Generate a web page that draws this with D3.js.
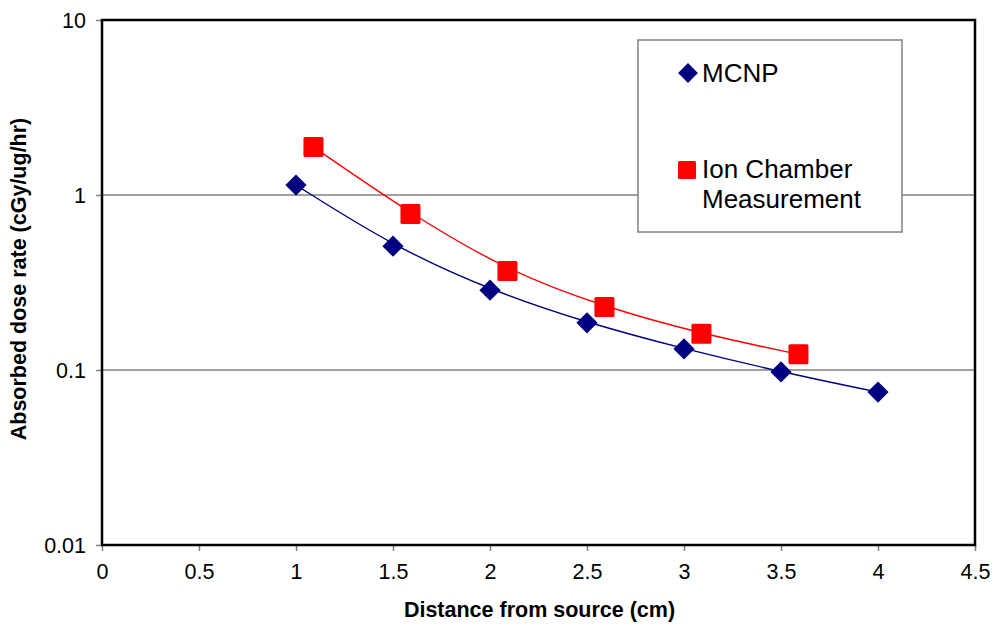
<!DOCTYPE html>
<html>
<head>
<meta charset="utf-8">
<script src="https://cdn.jsdelivr.net/npm/d3@7"></script>
<style>
  body { margin: 0; background: #fff; }
  svg { font-family: "Liberation Sans", Arial, sans-serif; }
</style>
</head>
<body>
<svg id="chart" width="997" height="627"></svg>
<script>
// data
const mcnpX = [1, 1.5, 2, 2.5, 3, 3.5, 4];
const mcnpY = [1.14, 0.51, 0.286, 0.186, 0.132, 0.0975, 0.0748];
const ionX = [1.09, 1.59, 2.09, 2.59, 3.09, 3.59];
const ionY = [1.88, 0.78, 0.368, 0.229, 0.161, 0.123];
const xTicks = [0, 0.5, 1, 1.5, 2, 2.5, 3, 3.5, 4, 4.5];
const yTicks = [0.01, 0.1, 1, 10];

const margin = {top: 20, right: 22, bottom: 82, left: 102};
const svg = d3.select("#chart");
const width = 997 - margin.left - margin.right;
const height = 627 - margin.top - margin.bottom;

const g = svg.append("g").attr("transform", `translate(${margin.left},${margin.top})`);

const x = d3.scaleLinear().domain([0, 4.5]).range([0, width]);
const y = d3.scaleLog().domain([0.01, 10]).range([height, 0]);

//gridlines at 0.1 and 1
g.selectAll(".grid")
  .data(yTicks.filter(d => d > 0.01 && d < 10))
  .enter().append("line")
    .attr("x1", 0).attr("x2", width)
    .attr("y1", d => y(d)).attr("y2", d => y(d))
    .attr("stroke", "#808080").attr("stroke-width", 1.5);

//axes
const xAxis = g.append("g")
  .attr("transform", `translate(0,${height})`)
  .call(d3.axisBottom(x).tickValues(xTicks).tickFormat(d3.format("")).tickSize(6).tickSizeOuter(0));
const yAxis = g.append("g")
  .call(d3.axisLeft(y).tickValues(yTicks).tickFormat(d => String(d)).tickSize(6).tickSizeOuter(0));

[xAxis, yAxis].forEach(a => {
  a.select(".domain").remove();
  a.selectAll(".tick line").attr("stroke", "#808080").attr("stroke-width", 1.5);
  a.selectAll(".tick text").attr("font-size", 21.5).attr("fill", "#000")
    .attr("font-family", "'Liberation Sans', Arial, sans-serif");
});
xAxis.selectAll(".tick text").attr("y", 8).attr("dy", "1.2em");
yAxis.selectAll(".tick text").attr("x", -16).attr("dy", "0.36em");

//frame
g.append("rect")
  .attr("width", width).attr("height", height)
  .attr("fill", "none").attr("stroke", "#000").attr("stroke-width", 2.5);

//curves
const line = d3.line()
  .x(d => x(d[0])).y(d => y(d[1]))
  .curve(d3.curveBasis);

const mcnp = mcnpX.map((v, i) => [v, mcnpY[i]]);
const ion = ionX.map((v, i) => [v, ionY[i]]);

g.append("path").datum(ion).attr("d", line)
  .attr("fill", "none").attr("stroke", "#ff0000").attr("stroke-width", 1.4);
g.append("path").datum(mcnp).attr("d", line)
  .attr("fill", "none").attr("stroke", "#000080").attr("stroke-width", 1.4);

g.selectAll(".mcnp")
  .data(mcnp)
  .enter().append("rect")
    .attr("x", -7.5).attr("y", -7.5).attr("width", 15).attr("height", 15)
    .attr("transform", d => `translate(${x(d[0])},${y(d[1])}) rotate(45)`)
    .attr("fill", "#000080");

g.selectAll(".ion")
  .data(ion)
  .enter().append("rect")
    .attr("x", d => x(d[0]) - 10).attr("y", d => y(d[1]) - 10)
    .attr("width", 20).attr("height", 20).attr("rx", 1.5)
    .attr("fill", "#ff0000");

//legend
const leg = svg.append("g");
leg.append("rect")
  .attr("x", 638).attr("y", 40).attr("width", 264).attr("height", 192)
  .attr("fill", "#fff").attr("stroke", "#808080").attr("stroke-width", 1.5);
leg.append("rect")
  .attr("x", -7).attr("y", -7).attr("width", 14).attr("height", 14)
  .attr("transform", "translate(688,73) rotate(45)")
  .attr("fill", "#000080");
leg.append("rect")
  .attr("x", 678).attr("y", 161).attr("width", 18).attr("height", 18).attr("rx", 1.5)
  .attr("fill", "#ff0000");
const legText = leg.append("g").attr("font-size", 26).attr("fill", "#000");
legText.append("text").attr("x", 702).attr("y", 82).text("MCNP");
legText.append("text").attr("x", 702).attr("y", 178).text("Ion Chamber");
legText.append("text").attr("x", 702).attr("y", 208).text("Measurement");

//axis titles
svg.append("text")
  .attr("x", margin.left + width / 2 + 1).attr("y", 617)
  .attr("text-anchor", "middle").attr("font-size", 21.5).attr("font-weight", "bold")
  .text("Distance from source (cm)");
svg.append("text")
  .attr("transform", `translate(26,279) rotate(-90)`)
  .attr("text-anchor", "middle").attr("font-size", 21.5).attr("font-weight", "bold")
  .text("Absorbed dose rate (cGy/ug/hr)");
</script>
</body>
</html>
